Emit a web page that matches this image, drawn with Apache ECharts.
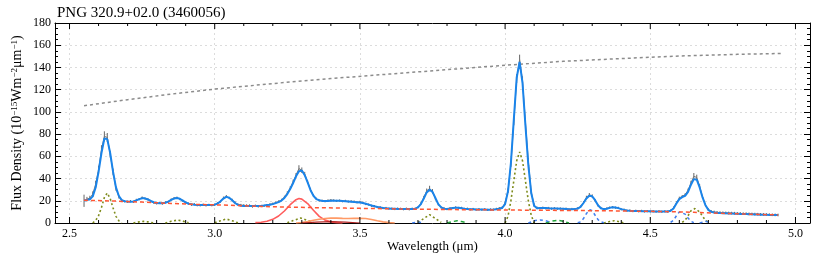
<!DOCTYPE html>
<html><head><meta charset="utf-8">
<script src="https://cdn.jsdelivr.net/npm/echarts@6/dist/echarts.min.js"></script>
<style>html,body{margin:0;padding:0;background:#fff}#c{width:830px;height:256px}</style>
</head><body><div id="c"></div>
<script>
const titleText = 'PNG 320.9+02.0 (3460056)';
const xName = 'Wavelength (μm)';
const yName = 'Flux Density (10{s|−15}Wm{s|−2}μm{s|−1})';

// sampling grid of the spectrum: 2.55 .. 4.94 µm, 0.01 µm steps
const waveStart = 2.55, waveStep = 0.01, waveCount = 240;

const fitFlux = [
 20.3,20.6,21.3,24,32,46,63,76,75.5,63,
 46,32,24.3,20.6,19.6,19.3,19.2,19.4,20.3,21.5,
 22.3,22.2,21.2,19.8,18.7,18.0,17.8,17.8,18.2,19.3,
 20.8,22.0,22.5,21.8,20.2,18.5,17.3,16.8,16.5,16.3,
 16.2,16.2,16.1,16.1,16.2,16.5,17.5,19.5,22.0,23.5,
 22.8,20.5,18.0,16.3,15.6,15.4,15.3,15.2,15.2,15.2,
 15.3,15.5,15.8,16.2,16.5,17.0,17.9,18.8,20.2,22.5,
 26,30.5,36,42,46.5,47.3,43,36.5,29.5,24.5,
 21.5,20.5,19.9,19.8,19.9,20.0,20.1,20.1,20.0,19.8,
 19.6,19.4,19.2,18.9,18.7,18.5,18.0,17.3,16.5,15.7,
 15.0,14.4,14.0,13.6,13.3,13.1,12.9,12.8,12.7,12.6,
 12.5,12.5,12.5,12.6,12.9,14.0,17.0,22.0,27.5,30.0,
 28.0,22.5,17.0,14.0,12.9,12.7,13.0,13.5,13.8,13.7,
 13.3,12.9,12.6,12.4,12.3,12.2,12.2,12.1,12.1,12.0,
 12.0,12.1,12.3,12.8,13.5,17,28.5,54,93,131,
 145,126,88,52,27,15.5,13.2,13.4,13.5,13.4,
 13.2,13.1,13.0,13.0,12.9,12.8,12.6,12.4,12.4,12.5,
 13.0,14.5,18.0,22.0,24.5,24.0,20.5,16.0,13.3,12.5,
 12.8,13.6,14.1,14.0,13.4,12.5,11.8,11.3,11.0,10.9,
 10.8,10.7,10.6,10.5,10.5,10.5,10.4,10.4,10.3,10.3,
 10.3,10.4,11.0,13.0,17.5,21.5,23.3,24.5,28.0,34.5,
 39.5,39.0,32.0,23.0,16.0,11.8,10.0,9.4,9.1,8.9,
 8.8,8.7,8.6,8.5,8.4,8.3,8.2,8.1,8.0,7.9,
 7.8,7.7,7.6,7.5,7.5,7.4,7.3,7.3,7.2,7.1
];

const obsFlux = [
 20.0,21.5,22.5,26,35,48,66,78,77,62,
 46,31,23.5,20,19.5,19.1,19.6,19.0,20.8,21.4,
 22.9,21.9,21.4,19.5,18.3,17.6,18.1,17.5,18.6,19.0,
 21.1,22.4,22.8,21.5,20.0,18.2,17.5,16.4,16.9,16.0,
 15.9,16.5,15.8,16.3,16.0,16.4,17.8,19.3,22.6,24.0,
 22.5,20.9,18.4,16.7,16.2,15.9,15.7,15.8,14.8,15.6,
 14.9,15.2,15.4,16.0,16.8,17.4,18.3,19.4,20.8,23.4,
 27,31.5,37,43,49,47.5,44,37,30,24.8,
 21.8,20.2,20.1,19.6,20.3,20.6,20.4,19.9,20.2,19.6,
 19.9,19.3,19.5,19.3,18.6,19.0,18.4,17.1,16.6,15.5,
 15.2,14.3,14.1,13.4,13.5,12.9,13.0,12.6,13.0,12.8,
 12.4,12.9,12.3,12.9,12.7,14.2,17.5,23,29,31,
 28.5,22,16.8,13.9,13.2,12.5,13.3,13.4,14.1,13.5,
 13.6,12.7,12.9,12.2,12.6,12.0,12.5,11.9,12.4,11.8,
 12.2,12.0,12.7,13.4,14.0,18,29,53,91,130,
 147,128,91,56,28,16,13.6,13.2,13.8,13.1,
 13.5,12.9,13.3,12.8,13.1,12.6,12.9,12.2,12.6,12.3,
 13.2,14.8,18.5,23,25.5,24.3,20.2,15.8,13.5,12.3,
 13.1,13.9,14.3,13.8,13.6,12.3,12.0,11.1,11.3,10.7,
 11.0,10.5,10.9,10.4,10.7,10.3,10.6,10.2,10.5,10.1,
 10.5,10.3,11.2,13.6,18.2,22.5,24,25.5,29.5,36,
 42,41,33,23.5,16.2,12.0,10.4,9.9,9.6,9.4,
 9.2,9.1,9.0,8.9,8.8,8.6,8.6,8.4,8.4,8.2,
 8.1,8.0,7.9,7.8,7.7,7.6,7.5,7.4,7.3,7.2
];

const obsErr = [
 5.5,2,2,2.5,3,3.5,4,4.5,4,3,
 3,2,1.5,1.2,1,1,1,1,1,1,
 1,1,1,1,1,1,1,1,1,1,
 1,1,1,1,1,1,1,1,1,1,
 1,1,1,1,1,1,1,1,1.2,1.2,
 1,1,1,1,1,1,1.2,1,1,1,
 1,1,1,1,1,1,1,1,1,1.2,
 1.5,1.5,2,2,3,2.5,2,1.5,1.5,1,
 1,1,1,1,1,1,1,1,1,1,
 1,1,1,1,1,1,1,1,1,1,
 1,1,1,1,1,1,1,1,1,1,
 1,1,1,1,1,1,1.2,1.5,2,2.5,
 2,1.5,1.2,1,1,1,1,1,1,1,
 1,1,1,1,1,1,1,1,1,1,
 1,1,1,1,1.2,1.5,2,2.5,3,4,
 4.5,4,3,2.5,2,1.5,1.2,1,1,1,
 1,1,1,1,1,1,1,1,1,1,
 1,1,1.2,1.5,1.5,1.5,1.2,1,1,1,
 1,1,1,1,1,1,1,1,1,1,
 1,1,1,1,1,1,1,1,1,1,
 1,1,1,1.2,1.2,1.2,1.2,1.2,1.5,2,
 3,2.5,2,1.5,1.2,1.2,1.2,1.2,1.2,1.2,
 1.2,1.2,1.2,1.2,1.2,1.2,1.2,1.2,1.2,1.2,
 1.2,1.2,1.2,1.2,1.2,1.2,1.2,1.2,1.2,1.2
];

// continuum (red dashed)
const contWave = [2.55,2.65,2.75,2.85,2.95,3.05,3.15,3.25,3.35,3.45,3.55,3.65,3.75,3.85,3.95,4.05,4.15,4.25,4.35,4.45,4.55,4.65,4.75,4.85,4.94];
const contFlux = [20.5,19.8,18.8,17.6,16.6,16.0,15.0,14.3,13.8,13.4,13.0,12.6,12.3,12.0,11.8,11.6,11.4,11.2,11.0,10.7,10.3,9.6,8.7,7.9,7.2];

// grey dotted upper curve
const bbWave = [2.55,2.7,2.85,3.0,3.2,3.4,3.6,3.8,4.0,4.2,4.4,4.6,4.8,4.95];
const bbFlux = [105.5,111,116,120.5,125.5,130,134,138,142,145.5,148,150.3,151.8,152.6];

// hydrogen recombination lines (olive dotted)
const hLines = [
 [[2.58,0],[2.59,2.2],[2.60,6.5],[2.61,14],[2.62,23],[2.63,27],[2.64,22],[2.65,13.5],[2.66,6],[2.67,2],[2.68,0]],
 [[2.72,0],[2.74,1.0],[2.755,1.5],[2.77,1.0],[2.79,0]],
 [[2.83,0],[2.85,1.6],[2.873,2.6],[2.89,1.7],[2.91,0.2]],
 [[3.00,0.2],[3.02,2],[3.04,3.6],[3.06,2],[3.08,0.2]],
 [[3.25,0.3],[3.27,2.2],[3.296,4.5],[3.32,2.2],[3.34,0.3]],
 [[3.70,0.5],[3.72,4],[3.74,7.5],[3.76,4],[3.78,0.5]],
 [[4.00,0],[4.01,6],[4.02,20],[4.03,38],[4.04,56],[4.05,64],[4.06,56],[4.07,38],[4.08,20],[4.09,7],[4.10,0]],
 [[4.34,0],[4.36,1.3],[4.376,2],[4.39,1.3],[4.41,0]],
 [[4.61,0.5],[4.62,2.5],[4.63,6.5],[4.64,11],[4.654,13],[4.67,10],[4.68,6],[4.69,2.5],[4.70,0.5]]
];
// 3.3 µm PAH (red solid)
const pah33 = [[3.14,0.3],[3.16,0.7],[3.18,1.6],[3.20,3.3],[3.22,6.3],[3.24,10.8],[3.26,16.5],[3.28,21],[3.29,22],[3.30,21.5],[3.32,17.5],[3.34,11.5],[3.36,6],[3.38,2.6],[3.40,1],[3.42,0.3],[3.44,0]];
// aliphatic plateau (orange solid)
const aliph = [[3.28,0],[3.30,0.5],[3.32,1.3],[3.34,2.4],[3.36,3.4],[3.38,4.1],[3.40,4.4],[3.42,4.4],[3.44,4.2],[3.46,4.1],[3.48,4.2],[3.50,4.3],[3.52,4.0],[3.54,3.2],[3.56,2.0],[3.58,1.0],[3.60,0.3],[3.62,0]];
// dark red small component
const aliph2 = [[3.30,0],[3.35,0.8],[3.40,1.2],[3.45,0.8],[3.50,0]];
// green dashed
const gLines = [
 [[3.80,0],[3.82,1.3],[3.835,2],[3.85,1.3],[3.87,0]],
 [[4.14,0],[4.16,1.6],[4.18,2.5],[4.20,1.6],[4.22,0]]
];
// blue dashed
const bLines = [
 [[3.68,0],[3.70,0.8],[3.72,0]],
 [[4.08,0],[4.10,2],[4.12,2.8],[4.14,2],[4.16,0.5]],
 [[4.25,0.2],[4.26,1],[4.27,4],[4.28,8.5],[4.292,12],[4.30,11],[4.31,7],[4.32,3],[4.33,1],[4.34,0.2]],
 [[4.57,0.5],[4.58,2.5],[4.59,6.5],[4.60,10],[4.605,11],[4.62,8],[4.63,4.5],[4.64,1.5],[4.65,0.3]],
 [[4.67,0],[4.69,1.5],[4.71,0]]
];

const xMajorTicks = [2.5,3.0,3.5,4.0,4.5,5.0];
const xMinorTicks = [2.6,2.7,2.8,2.9,3.1,3.2,3.3,3.4,3.6,3.7,3.8,3.9,4.1,4.2,4.3,4.4,4.6,4.7,4.8,4.9];

const wave = Array.from({length: waveCount}, (_, i) => +(waveStart + i * waveStep).toFixed(2));
const zip = (xs, ys) => xs.map((x, i) => [x, ys[i]]);

const FONT = "'Liberation Serif','Times New Roman',serif";
const XMIN = 2.45, XMAX = 5.05, YMIN = 0, YMAX = 180;

function lineSeries(data, color, type, width, z) {
  return {type: 'line', data, showSymbol: false, symbol: 'none', z, silent: true,
    lineStyle: {color, type, width}, animation: false};
}

function tickSeries(vals, len) {
  return {
    type: 'custom', z: 20, silent: true, animation: false,
    data: vals.map(v => [v, YMIN]),
    encode: {x: 0, y: 1},
    renderItem: (params, api) => {
      const v = api.value(0);
      const b = api.coord([v, YMIN]);
      const t = api.coord([v, YMAX]);
      return {type: 'group', children: [
        {type: 'line', shape: {x1: b[0], y1: b[1], x2: b[0], y2: b[1] - len}, style: {stroke: '#000', lineWidth: 1}},
        {type: 'line', shape: {x1: t[0], y1: t[1], x2: t[0], y2: t[1] + len}, style: {stroke: '#000', lineWidth: 1}}
      ]};
    }
  };
}

const series = [];
series.push(lineSeries(zip(bbWave, bbFlux), '#8c8c8c', [3, 3], 1.5, 2));
hLines.forEach(d => series.push(lineSeries(d, '#7f8c1c', [2, 2.5], 1.6, 3)));
series.push(lineSeries(pah33, '#ff5c5c', 'solid', 1.6, 3));
series.push(lineSeries(aliph, '#ff9a66', 'solid', 1.6, 3));
series.push(lineSeries(aliph2, '#b22222', 'solid', 1.2, 3));
gLines.forEach(d => series.push(lineSeries(d, '#22a33a', [4, 3], 1.5, 3)));
bLines.forEach(d => series.push(lineSeries(d, '#3f7ff0', [3, 3], 1.5, 3)));
// observed spectrum with error bars
series.push({
  type: 'custom', z: 4, silent: true, animation: false,
  data: wave.map((w, i) => [w, obsFlux[i] - obsErr[i], obsFlux[i] + obsErr[i]]),
  encode: {x: 0, y: [1, 2]},
  renderItem: (params, api) => {
    const x = api.value(0);
    const a = api.coord([x, api.value(1)]);
    const b = api.coord([x, api.value(2)]);
    return {type: 'line', shape: {x1: a[0], y1: a[1], x2: b[0], y2: b[1]}, style: {stroke: '#666', lineWidth: 1}};
  }
});
series.push(lineSeries(zip(wave, obsFlux), '#777', 'solid', 1, 4));
series.push(lineSeries(zip(wave, fitFlux), '#1a84ea', 'solid', 2, 6));
series.push(lineSeries(zip(contWave, contFlux), '#ff5533', [4, 3], 1.5, 7));
series.push(tickSeries(xMajorTicks, 6));
series.push(tickSeries(xMinorTicks, 3));

const chart = echarts.init(document.getElementById('c'), null, {renderer: 'canvas'});
chart.setOption({
  animation: false,
  backgroundColor: '#fff',
  title: {text: titleText, left: 52, top: 1, textStyle: {fontFamily: FONT, fontSize: 15, fontWeight: 'normal', color: '#000'}},
  grid: {left: 55, right: 20, top: 23, bottom: 33, containLabel: false, outerBoundsMode: 'none'},
  xAxis: [{
    type: 'value', min: XMIN, max: XMAX, splitNumber: 5,
    name: xName, nameLocation: 'middle', nameGap: 17, nameMoveOverlap: false,
    nameTextStyle: {fontFamily: FONT, fontSize: 13, color: '#000'},
    axisLine: {show: true, onZero: false, lineStyle: {color: '#000', width: 1}},
    axisTick: {show: false}, minorTick: {show: false},
    axisLabel: {fontFamily: FONT, fontSize: 12, color: '#000', margin: 5, showMinLabel: false, showMaxLabel: false,
      formatter: v => v.toFixed(1)},
    splitLine: {show: true, lineStyle: {color: '#dcdcdc', type: [2, 3], width: 1}}
  }, {
    type: 'value', position: 'top', min: XMIN, max: XMAX, splitNumber: 5,
    axisLine: {show: true, onZero: false, lineStyle: {color: '#000', width: 1}},
    axisTick: {show: false}, axisLabel: {show: false}, splitLine: {show: false}
  }],
  yAxis: [{
    type: 'value', min: YMIN, max: YMAX, interval: 20,
    name: yName, nameLocation: 'middle', nameGap: 31, nameRotate: 90, nameMoveOverlap: false,
    nameTextStyle: {fontFamily: FONT, fontSize: 14, color: '#000',
      rich: {s: {fontFamily: FONT, fontSize: 9, color: '#000', verticalAlign: 'top'}}},
    axisLine: {show: true, lineStyle: {color: '#000', width: 1}},
    axisTick: {show: true, inside: true, length: 6, lineStyle: {color: '#000'}},
    minorTick: {show: true, splitNumber: 4, length: 3, lineStyle: {color: '#000'}},
    axisLabel: {fontFamily: FONT, fontSize: 12, color: '#000', margin: 4},
    splitLine: {show: true, lineStyle: {color: '#dcdcdc', type: [2, 3], width: 1}}
  }, {
    type: 'value', position: 'right', min: YMIN, max: YMAX, interval: 20,
    axisLine: {show: true, lineStyle: {color: '#000', width: 1}},
    axisTick: {show: true, inside: true, length: 6, lineStyle: {color: '#000'}},
    minorTick: {show: true, splitNumber: 4, length: 3, lineStyle: {color: '#000'}},
    axisLabel: {show: false}, splitLine: {show: false}
  }],
  series
});
</script></body></html>
